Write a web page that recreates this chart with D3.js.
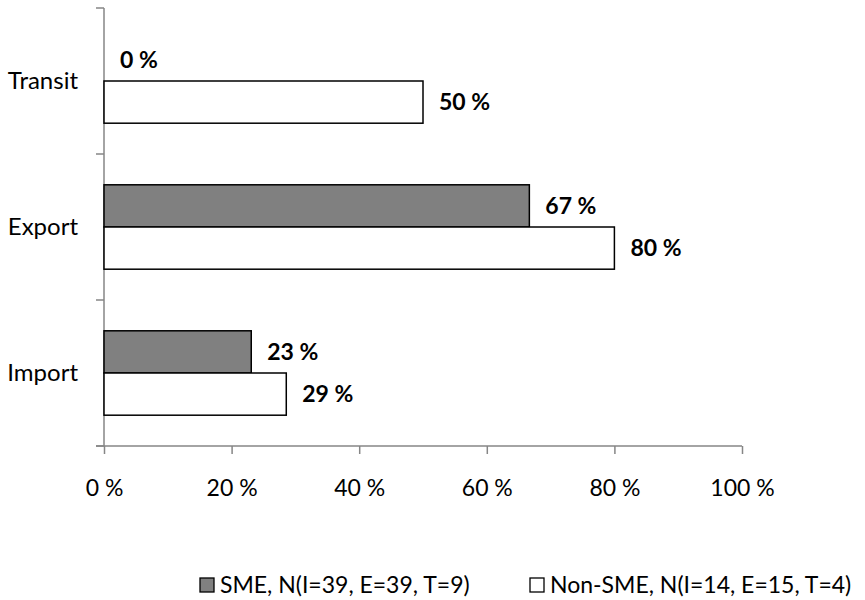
<!DOCTYPE html>
<html>
<head>
<meta charset="utf-8">
<script src="https://cdn.jsdelivr.net/npm/d3@7"></script>
<style>
  html, body { margin: 0; padding: 0; background: #fff; }
  svg { display: block; }
  text { font-family: Lato, "Open Sans", sans-serif; fill: #000; }
</style>
</head>
<body>
<svg id="chart" width="865" height="600"></svg>
<script>
// Categories listed top to bottom
const categories = ["Transit", "Export", "Import"];
const seriesNames = ["SME, N(I=39, E=39, T=9)", "Non-SME, N(I=14, E=15, T=4)"];
// Share of respondents (%), one value per category
const smeValues = [0, 66.67, 23.08];
const nonSmeValues = [50, 80, 28.57];
const valueLabels = [["0 %", "67 %", "23 %"], ["50 %", "80 %", "29 %"]];
const xTicks = [0, 20, 40, 60, 80, 100];

const seriesValues = [smeValues, nonSmeValues];
const fills = ["#808080", "#ffffff"];

const svg = d3.select("#chart");

const x = d3.scaleLinear().domain([0, 100]).range([104, 742]);
const y = d3.scaleBand().domain(categories).range([8, 446]).padding(0);
const ySub = d3.scaleBand().domain(d3.range(seriesNames.length))
  .range([0, y.bandwidth()]).paddingInner(0).paddingOuter(0.73);

const axisColor = "#868686";

// Horizontal value axis
const xAxis = svg.append("g")
  .attr("transform", `translate(0,${y.range()[1]})`)
  .call(d3.axisBottom(x).tickValues(xTicks).tickSize(8).tickFormat(d => d + " %"));
xAxis.select(".domain").attr("stroke", axisColor).attr("stroke-width", 1.5)
  .attr("d", `M${x(0) - 8},0H${x(100)}`);
xAxis.selectAll(".tick line").attr("stroke", axisColor).attr("stroke-width", 1.5);
xAxis.selectAll(".tick text").attr("y", 50).attr("dy", 0)
  .style("font-size", "23px").attr("fill", "#000");

// Vertical category axis with ticks at band boundaries
const yAxisG = svg.append("g");
yAxisG.append("line")
  .attr("x1", x(0)).attr("x2", x(0))
  .attr("y1", y.range()[0]).attr("y2", y.range()[1])
  .attr("stroke", axisColor).attr("stroke-width", 1.5);
const bounds = categories.map(c => y(c)).concat([y.range()[1]]);
yAxisG.selectAll("line.tick").data(bounds).join("line")
  .attr("class", "tick")
  .attr("x1", x(0) - 8).attr("x2", x(0))
  .attr("y1", d => d).attr("y2", d => d)
  .attr("stroke", axisColor).attr("stroke-width", 1.5);
yAxisG.selectAll("text").data(categories).join("text")
  .attr("x", x(0) - 26)
  .attr("y", d => y(d) + y.bandwidth() / 2)
  .attr("dy", "0.35em")
  .attr("text-anchor", "end")
  .style("font-size", "24px")
  .text(d => d);

// Bars
const groups = svg.append("g").selectAll("g").data(seriesNames).join("g");
groups.each(function (name, si) {
  const g = d3.select(this);
  const vals = seriesValues[si];
  g.selectAll("rect").data(categories).join("rect")
    .attr("x", x(0))
    .attr("y", c => y(c) + ySub(si))
    .attr("width", (c, i) => x(vals[i]) - x(0))
    .attr("height", ySub.bandwidth())
    .attr("fill", fills[si])
    .attr("stroke", (c, i) => vals[i] > 0 ? "#000" : "none")
    .attr("stroke-width", 1.5);
  g.selectAll("text").data(categories).join("text")
    .attr("x", (c, i) => x(vals[i]) + 16)
    .attr("y", c => y(c) + ySub(si) + ySub.bandwidth() / 2)
    .attr("dy", "0.35em")
    .style("font-size", "23px")
    .style("font-weight", "bold")
    .text((c, i) => valueLabels[si][i]);
});

// Legend along the bottom edge
const legendY = 585;
const legendItems = [
  { name: seriesNames[0], fill: fills[0], x: 200 },
  { name: seriesNames[1], fill: fills[1], x: 530 }
];
const lg = svg.append("g").selectAll("g").data(legendItems).join("g")
  .attr("transform", d => `translate(${d.x},${legendY})`);
lg.append("rect")
  .attr("x", 0).attr("y", -7).attr("width", 14).attr("height", 14)
  .attr("fill", d => d.fill).attr("stroke", "#000").attr("stroke-width", 1.3);
lg.append("text")
  .attr("x", 20).attr("y", 0).attr("dy", "0.35em")
  .style("font-size", "23px")
  .text(d => d.name);
</script>
</body>
</html>
